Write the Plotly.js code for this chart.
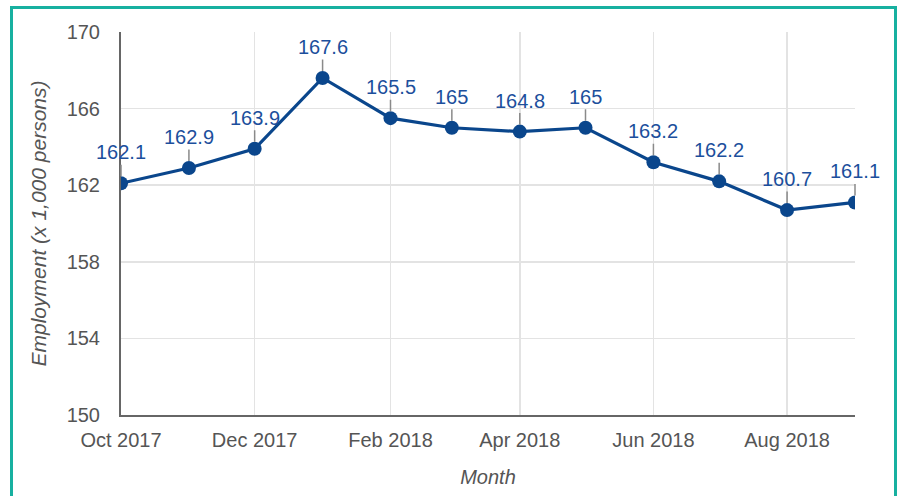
<!DOCTYPE html>
<html>
<head>
<meta charset="utf-8">
<script src="https://cdn.plot.ly/plotly-3.0.1.min.js"></script>
<style>
  html, body { margin: 0; padding: 0; background: #fff; overflow: hidden; }
  #chart { position: absolute; left: 0; top: 0; width: 902px; height: 496px; }
  #frame { position: absolute; left: 10px; top: 6px; width: 887px; height: 520px;
           box-sizing: border-box; border: 3px solid #17b0a0; pointer-events: none; }
</style>
</head>
<body>
<div id="chart"></div>
<div id="frame"></div>
<script>
const months = ['2017-10-01','2017-11-01','2017-12-01','2018-01-01','2018-02-01','2018-03-01',
                '2018-04-01','2018-05-01','2018-06-01','2018-07-01','2018-08-01','2018-09-01'];
const employment = [162.1, 162.9, 163.9, 167.6, 165.5, 165, 164.8, 165, 163.2, 162.2, 160.7, 161.1];
const yTicks = [150, 154, 158, 162, 166, 170];

const lineColor = '#0a468c';
const labelColor = '#1c4f9c';
const fontFam = '"Liberation Sans", Arial, sans-serif';

const annotations = months.map((m, i) => ({
  x: m, y: employment[i], xref: 'x', yref: 'y',
  text: String(employment[i]),
  showarrow: true, arrowhead: 0, arrowwidth: 1.5, arrowcolor: '#8a8a8a',
  ax: 0, ay: -31, standoff: 7,
  font: { family: fontFam, size: 20, color: labelColor }
}));

const trace = {
  x: months, y: employment, type: 'scatter', mode: 'lines+markers',
  line: { color: lineColor, width: 3.2 },
  marker: { color: lineColor, size: 14 },
  hoverinfo: 'x+y'
};

const layout = {
  width: 902, height: 496,
  margin: { l: 121, r: 47, t: 32, b: 81 },
  paper_bgcolor: '#fff', plot_bgcolor: '#fff',
  showlegend: false,
  font: { family: fontFam, size: 20, color: '#555' },
  xaxis: {
    type: 'date',
    range: [months[0], months[months.length - 1]],
    tick0: '2017-10-01', dtick: 'M2', tickformat: '%b %Y',
    showgrid: true, gridcolor: '#e3e3e3', gridwidth: 1.5,
    showline: true, linecolor: '#666', linewidth: 2,
    ticks: '', ticklabelstandoff: 6,
    tickfont: { family: fontFam, size: 20, color: '#555' },
    zeroline: false,
    title: { text: 'Month', standoff: 20,
             font: { family: fontFam, size: 20, color: '#555', style: 'italic' } }
  },
  yaxis: {
    range: [150, 170],
    tickvals: yTicks, ticktext: yTicks.map(String),
    showgrid: true, gridcolor: '#e3e3e3', gridwidth: 1.5,
    showline: true, linecolor: '#666', linewidth: 2,
    ticks: '', ticklabelstandoff: 15,
    tickfont: { family: fontFam, size: 20, color: '#555' },
    zeroline: false,
    title: { text: 'Employment (x 1,000 persons)', standoff: 14,
             font: { family: fontFam, size: 21, color: '#555', style: 'italic' } }
  },
  annotations: annotations
};

Plotly.newPlot('chart', [trace], layout, { displayModeBar: false, staticPlot: true });
</script>
</body>
</html>
